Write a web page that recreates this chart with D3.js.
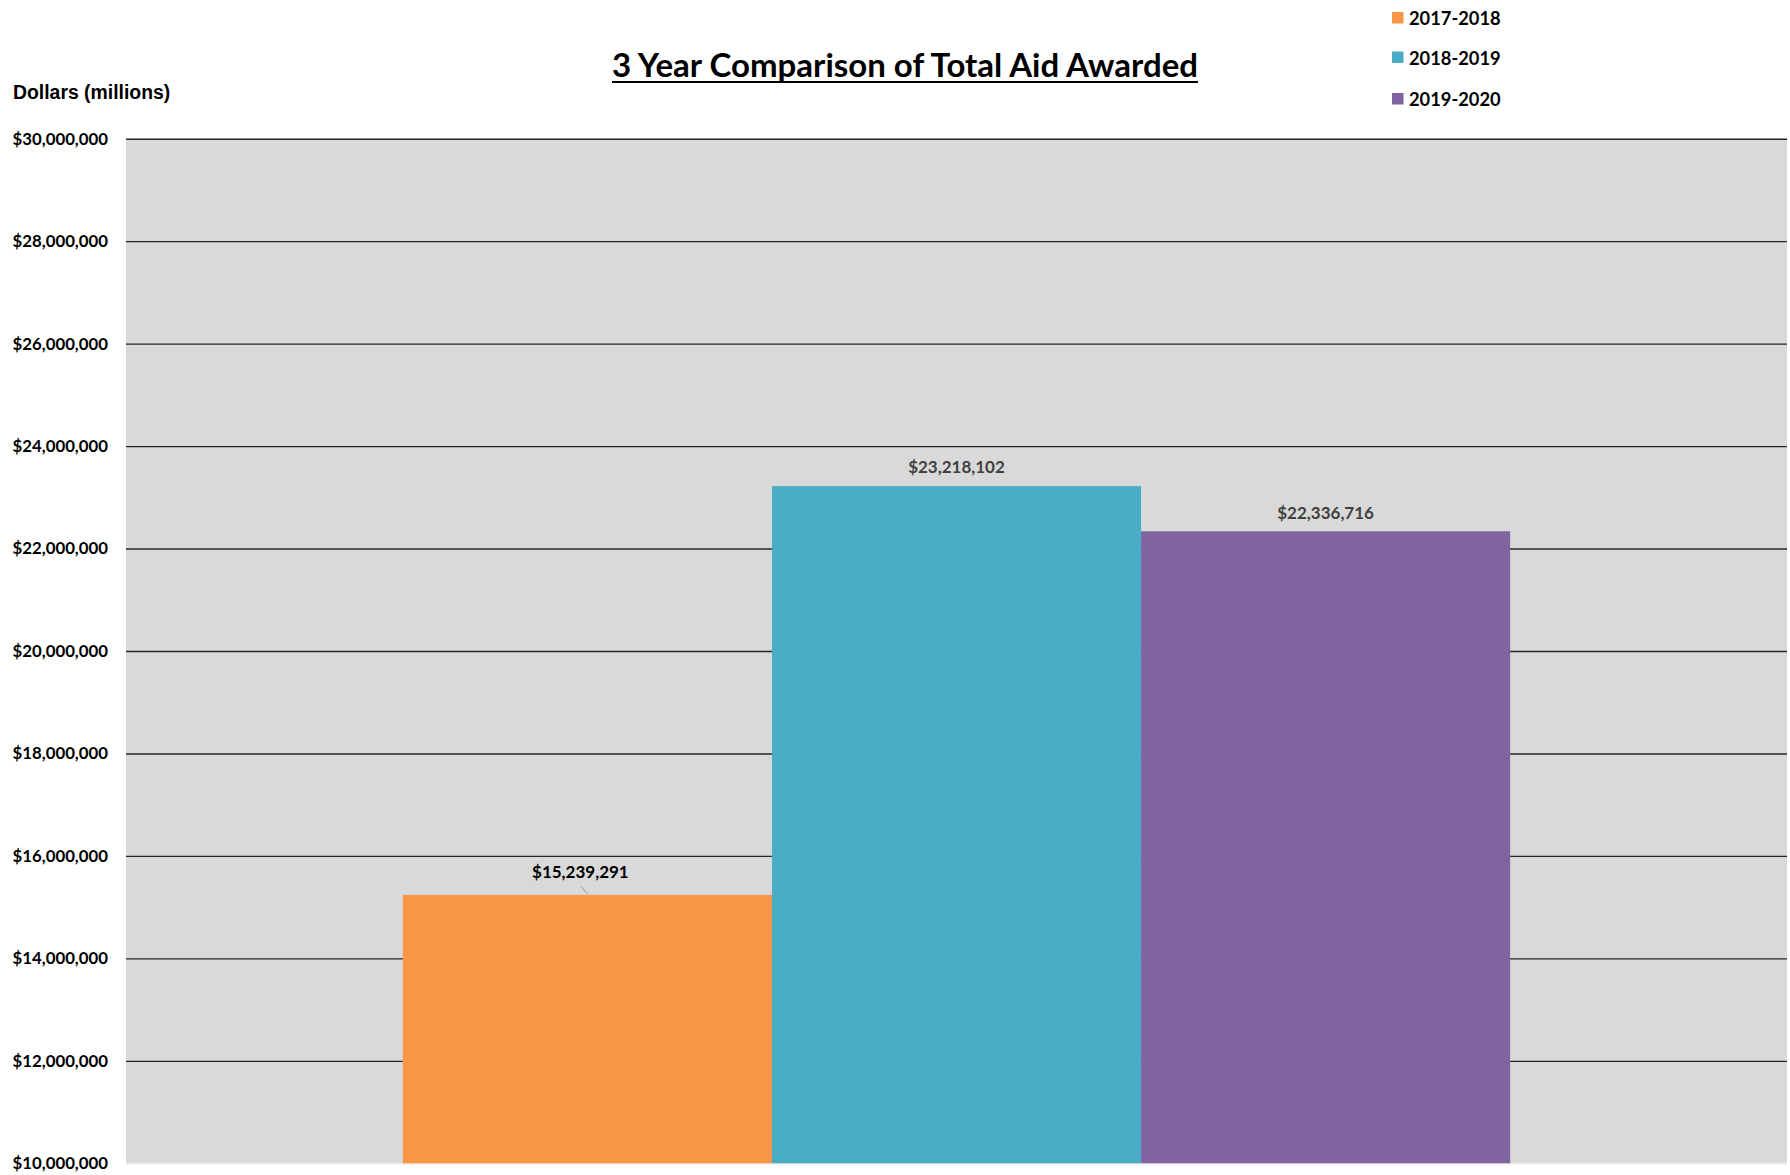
<!DOCTYPE html>
<html>
<head>
<meta charset="utf-8">
<script src="https://cdn.jsdelivr.net/npm/d3@7"></script>
<style>
  html, body { margin: 0; padding: 0; background: #fff; }
  svg { display: block; }
</style>
</head>
<body>
<svg id="chart" width="1790" height="1175"></svg>
<script>
const categories = ["Total Aid Awarded"];
const series = ["2017-2018", "2018-2019", "2019-2020"];
const values = [15239291, 23218102, 22336716];
const seriesColors = ["#F79646", "#4BACC6", "#8064A2"];
const labelColors = ["#000000", "#404040", "#404040"];
const yTickValues = [10000000, 12000000, 14000000, 16000000, 18000000, 20000000, 22000000, 24000000, 26000000, 28000000, 30000000];
const titleText = "3 Year Comparison of Total Aid Awarded";
const yAxisTitle = "Dollars (millions)";

const svg = d3.select("#chart");
const plot = { left: 126, right: 1787, top: 138.7, bottom: 1163.3 };

const y = d3.scaleLinear().domain([10000000, 30000000]).range([plot.bottom, plot.top]);
const x0 = d3.scaleBand().domain(categories).range([plot.left, plot.right]).paddingInner(0).paddingOuter(0.25);
const x1 = d3.scaleBand().domain(series).range([0, x0.bandwidth()]).padding(0);

// plot background
svg.append("rect")
  .attr("x", plot.left).attr("y", plot.top)
  .attr("width", plot.right - plot.left).attr("height", plot.bottom - plot.top)
  .attr("fill", "#D9D9D9");

// faint bottom axis line
svg.append("line")
  .attr("x1", plot.left).attr("x2", plot.right)
  .attr("y1", plot.bottom + 0.8).attr("y2", plot.bottom + 0.8)
  .attr("stroke", "#eeeeee").attr("stroke-width", 1.5);

// gridlines
const yAxisGrid = d3.axisLeft(y).tickValues(yTickValues.filter(v => v > 10000000))
  .tickSize(-(plot.right - plot.left)).tickFormat("");
const grid = svg.append("g").attr("transform", `translate(${plot.left},0)`).call(yAxisGrid);
grid.select(".domain").remove();
grid.selectAll(".tick line").attr("stroke", "#262626").attr("stroke-width", 1.4);

// y tick labels
const yAxis = d3.axisLeft(y).tickValues(yTickValues).tickSize(0).tickPadding(0)
  .tickFormat(d => "$" + d3.format(",")(d));
const ya = svg.append("g").attr("transform", `translate(108,0)`).call(yAxis);
ya.select(".domain").remove();
ya.selectAll(".tick text")
  .attr("font-family", "Lato, 'Open Sans', sans-serif")
  .attr("font-weight", "bold").attr("font-size", 16.8).attr("fill", "#000");

// bars
const g = svg.append("g");
categories.forEach(cat => {
  series.forEach((s, i) => {
    const bx = x0(cat) + x1(s);
    g.append("rect")
      .attr("x", bx).attr("y", y(values[i]))
      .attr("width", x1.bandwidth())
      .attr("height", y(10000000) - y(values[i]))
      .attr("fill", seriesColors[i]);
  });
});

// data labels
const labelOffsets = [{dx: -7, dy: -23, leader: true}, {dx: 0, dy: -20}, {dx: 0, dy: -18.5}];
categories.forEach(cat => {
  series.forEach((s, i) => {
    const cx = x0(cat) + x1(s) + x1.bandwidth() / 2;
    const top = y(values[i]);
    const o = labelOffsets[i];
    if (o.leader) {
      svg.append("line")
        .attr("x1", cx - 6.5).attr("y1", top - 8.5)
        .attr("x2", cx + 0.5).attr("y2", top - 0.5)
        .attr("stroke", "#999").attr("stroke-width", 1);
    }
    svg.append("text")
      .attr("x", cx + o.dx).attr("y", top + o.dy)
      .attr("text-anchor", "middle").attr("dominant-baseline", "central")
      .attr("font-family", "Lato, 'Open Sans', sans-serif")
      .attr("font-weight", "bold").attr("font-size", 17)
      .attr("fill", labelColors[i])
      .text("$" + d3.format(",")(values[i]));
  });
});

// title
const title = svg.append("text")
  .attr("x", 905).attr("y", 77)
  .attr("text-anchor", "middle")
  .attr("font-family", "Lato, 'Open Sans', sans-serif")
  .attr("font-weight", "bold").attr("font-size", 33)
  .attr("fill", "#000")
  .text(titleText);
const tw = title.node().getComputedTextLength();
svg.append("line")
  .attr("x1", 905 - tw / 2).attr("x2", 905 + tw / 2)
  .attr("y1", 82).attr("y2", 82)
  .attr("stroke", "#000").attr("stroke-width", 2.2);

// y axis title
svg.append("text")
  .attr("x", 13).attr("y", 99)
  .attr("font-family", "'Liberation Sans', Arial, sans-serif")
  .attr("font-weight", "bold").attr("font-size", 19.4)
  .attr("fill", "#000")
  .text(yAxisTitle);

// legend
const legend = svg.append("g");
const legendY = [18, 57.5, 99];
series.forEach((s, i) => {
  legend.append("rect")
    .attr("x", 1392).attr("y", legendY[i] - 6)
    .attr("width", 11.5).attr("height", 11.5)
    .attr("fill", seriesColors[i]);
  legend.append("text")
    .attr("x", 1409).attr("y", legendY[i])
    .attr("dominant-baseline", "central")
    .attr("font-family", "Lato, 'Open Sans', sans-serif")
    .attr("font-weight", "bold").attr("font-size", 18.3)
    .attr("fill", "#000")
    .text(s);
});
</script>
</body>
</html>
